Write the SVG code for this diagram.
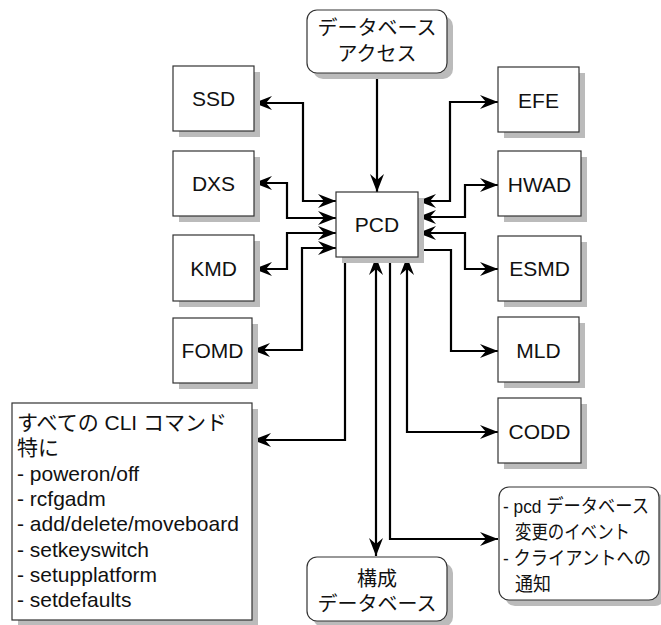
<svg xmlns="http://www.w3.org/2000/svg" width="661" height="625" viewBox="0 0 661 625">
<style>
text{font-family:"Liberation Sans","Noto Sans CJK JP",sans-serif;font-size:21px;fill:#111;}
.c{text-anchor:middle;}
.box{fill:#fff;stroke:#333;stroke-width:1.2;}
.sh{fill:#bbb;}
.ln{fill:none;stroke:#000;stroke-width:2.2;}
.jp{font-size:20px;}
.ev{font-size:19px;}
</style>
<defs>
<marker id="ah" viewBox="-19 -8 20 16" refX="0" refY="0" markerWidth="20" markerHeight="16" markerUnits="userSpaceOnUse" orient="auto-start-reverse">
<path d="M0,0 L-18,-7 L-12,0 L-18,7 Z" fill="#000"/>
</marker>
</defs>
<rect width="661" height="625" fill="#fff"/>

<g id="connectors">
<path class="ln" d="M377,73 V192" marker-end="url(#ah)"/>
<path class="ln" d="M254,103 H303 V201 H336" marker-start="url(#ah)" marker-end="url(#ah)"/>
<path class="ln" d="M254,183 H287 V218 H336" marker-start="url(#ah)" marker-end="url(#ah)"/>
<path class="ln" d="M254,269 H287 V233 H336" marker-start="url(#ah)" marker-end="url(#ah)"/>
<path class="ln" d="M252,350 H302 V248 H336" marker-start="url(#ah)" marker-end="url(#ah)"/>
<path class="ln" d="M418,201 H450 V102 H498" marker-start="url(#ah)" marker-end="url(#ah)"/>
<path class="ln" d="M418,217 H465 V185 H498" marker-start="url(#ah)" marker-end="url(#ah)"/>
<path class="ln" d="M418,233 H465 V269 H498" marker-start="url(#ah)" marker-end="url(#ah)"/>
<path class="ln" d="M418,250 H451 V351 H498" marker-end="url(#ah)"/>
<path class="ln" d="M407,257 V432 H498" marker-start="url(#ah)" marker-end="url(#ah)"/>
<path class="ln" d="M345,257 V440 H253" marker-end="url(#ah)"/>
<path class="ln" d="M376,257 V556" marker-start="url(#ah)" marker-end="url(#ah)"/>
<path class="ln" d="M390,257 V539 H498" marker-end="url(#ah)"/>
</g>

<g id="dbaccess">
<rect class="sh" x="313" y="16" width="140" height="63" rx="10"/>
<rect class="box" x="307" y="10" width="140" height="63" rx="10"/>
<text class="c jp" x="377" y="35">データベース</text>
<text class="c jp" x="377" y="61">アクセス</text>
</g>

<g id="pcd">
<rect class="sh" x="342" y="198" width="82" height="65"/>
<rect class="box" x="336" y="192" width="82" height="65"/>
<text class="c" x="377" y="232">PCD</text>
</g>

<g id="ssd">
<rect class="sh" x="179" y="72" width="81" height="65"/>
<rect class="box" x="173" y="66" width="81" height="65"/>
<text class="c" x="213.5" y="106">SSD</text>
</g>
<g id="dxs">
<rect class="sh" x="179" y="157" width="81" height="65"/>
<rect class="box" x="173" y="151" width="81" height="65"/>
<text class="c" x="213.5" y="191">DXS</text>
</g>
<g id="kmd">
<rect class="sh" x="179" y="241" width="81" height="66"/>
<rect class="box" x="173" y="235" width="81" height="66"/>
<text class="c" x="213.5" y="276">KMD</text>
</g>
<g id="fomd">
<rect class="sh" x="179" y="324" width="79" height="65"/>
<rect class="box" x="173" y="318" width="79" height="65"/>
<text class="c" x="212.5" y="358">FOMD</text>
</g>

<g id="efe">
<rect class="sh" x="504" y="73" width="81" height="65"/>
<rect class="box" x="498" y="67" width="81" height="65"/>
<text class="c" x="538.5" y="108">EFE</text>
</g>
<g id="hwad">
<rect class="sh" x="504" y="157" width="83" height="65"/>
<rect class="box" x="498" y="151" width="83" height="65"/>
<text class="c" x="539.5" y="192">HWAD</text>
</g>
<g id="esmd">
<rect class="sh" x="504" y="242" width="83" height="65"/>
<rect class="box" x="498" y="236" width="83" height="65"/>
<text class="c" x="539.5" y="276">ESMD</text>
</g>
<g id="mld">
<rect class="sh" x="504" y="323" width="81" height="65"/>
<rect class="box" x="498" y="317" width="81" height="65"/>
<text class="c" x="538.5" y="358">MLD</text>
</g>
<g id="codd">
<rect class="sh" x="504" y="404" width="83" height="65"/>
<rect class="box" x="498" y="398" width="83" height="65"/>
<text class="c" x="539.5" y="439">CODD</text>
</g>

<g id="cli">
<rect class="sh" x="18" y="409" width="240" height="217"/>
<rect class="box" x="12" y="403" width="240" height="217"/>
<text x="17" y="430">すべての CLI コマンド</text>
<text x="17" y="455">特に</text>
<text x="17" y="481">- poweron/off</text>
<text x="17" y="506">- rcfgadm</text>
<text x="17" y="531">- add/delete/moveboard</text>
<text x="17" y="557">- setkeyswitch</text>
<text x="17" y="582">- setupplatform</text>
<text x="17" y="607">- setdefaults</text>
</g>

<g id="configdb">
<rect class="sh" x="313" y="563" width="140" height="64" rx="10"/>
<rect class="box" x="307" y="557" width="140" height="64" rx="10"/>
<text class="c jp" x="377" y="586">構成</text>
<text class="c jp" x="377" y="611">データベース</text>
</g>

<g id="pcdevent">
<rect class="sh" x="505" y="493" width="160" height="113" rx="10"/>
<rect class="box" x="499" y="487" width="160" height="113" rx="10"/>
<text class="ev" x="503" y="513" textLength="146" lengthAdjust="spacingAndGlyphs">- pcd データベース</text>
<text class="ev" x="515" y="539" textLength="115" lengthAdjust="spacingAndGlyphs">変更のイベント</text>
<text class="ev" x="503" y="565" textLength="148" lengthAdjust="spacingAndGlyphs">- クライアントへの</text>
<text class="ev" x="515" y="591" textLength="36" lengthAdjust="spacingAndGlyphs">通知</text>
</g>
</svg>
